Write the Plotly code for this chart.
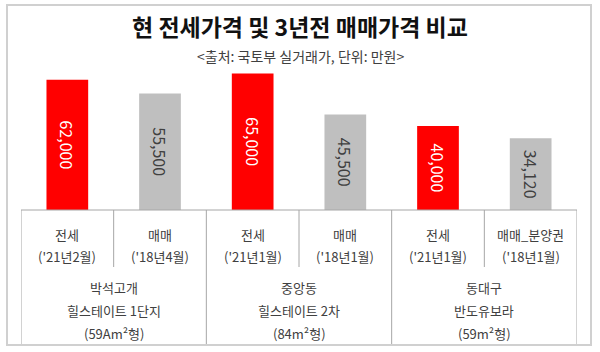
import plotly.graph_objects as go

title = "현 전세가격 및 3년전 매매가격 비교"
subtitle = "<출처: 국토부 실거래가, 단위: 만원>"
kinds = ["전세", "매매", "전세", "매매", "전세", "매매_분양권"]
periods = ["('21년2월)", "('18년4월)", "('21년1월)", "('18년1월)", "('21년1월)", "('18년1월)"]
values = [62000, 55500, 65000, 45500, 40000, 34120]
group_lines = [
    ["박석고개", "힐스테이트 1단지", "(59Am²형)"],
    ["중앙동", "힐스테이트 2차", "(84m²형)"],
    ["동대구", "반도유보라", "(59m²형)"],
]
RED = "#FF0000"
GRAY = "#BFBFBF"
TXT = "#404040"

W, H = 600, 352
L, R, T, B = 21, 23, 63, 142
plot_h = H - T - B
plot_w = W - L - R


def py(p):
    return (H - B - p) / plot_h


def px(p):
    return (p - L) / plot_w


xs = list(range(len(values)))
colors = [RED if k == "전세" else GRAY for k in kinds]
tcolors = ["white" if k == "전세" else TXT for k in kinds]

fig = go.Figure(go.Bar(
    x=xs, y=values, width=0.45,
    marker=dict(color=colors, line=dict(width=0)),
    texttemplate="%{y:,}", textposition="inside", insidetextanchor="middle",
    textangle=90, textfont=dict(size=16, color=tcolors, family="Noto Sans CJK KR"),
    hoverinfo="skip",
))

shapes = []
line = dict(color="#A6A6A6", width=1)
n = len(values)
shapes.append(dict(type="line", xref="x", yref="paper", x0=-0.5, x1=n - 0.5, y0=0, y1=0, line=line))
for i in range(n + 1):
    xv = i - 0.5
    yb = py(344) if i % 2 == 0 else py(267)
    shapes.append(dict(type="line", xref="x", yref="paper", x0=xv, x1=xv, y0=0, y1=yb, line=line))
shapes.append(dict(type="rect", xref="paper", yref="paper", x0=px(7), x1=px(591), y0=py(345), y1=py(5),
                   line=dict(color="#D0D0D0", width=2), layer="below"))

ann = []
font = dict(family="Noto Sans CJK KR", size=13, color=TXT)
for i, (k, p) in enumerate(zip(kinds, periods)):
    ann.append(dict(x=i, y=py(234), xref="x", yref="paper", text=k, showarrow=False, font=font, yanchor="middle"))
    ann.append(dict(x=i, y=py(256), xref="x", yref="paper", text=p, showarrow=False, font=font, yanchor="middle"))
for g, lines in enumerate(group_lines):
    for j, t in enumerate(lines):
        ann.append(dict(x=2 * g + 0.5, y=py([287, 310, 333][j]), xref="x", yref="paper", text=t,
                        showarrow=False, font=font, yanchor="middle"))
ann.append(dict(x=px(300), y=py(26), xref="paper", yref="paper", text="<b>" + title + "</b>", showarrow=False,
                font=dict(family="Noto Sans CJK KR", size=23, color="#111111"), yanchor="middle"))
ann.append(dict(x=px(300), y=py(56), xref="paper", yref="paper", text=subtitle.replace("<", "&lt;").replace(">", "&gt;"),
                showarrow=False, font=dict(family="Noto Sans CJK KR", size=14, color=TXT), yanchor="middle"))

fig.update_layout(
    width=W, height=H, margin=dict(l=L, r=R, t=T, b=B),
    paper_bgcolor="white", plot_bgcolor="white",
    xaxis=dict(range=[-0.5, n - 0.5], showticklabels=False, showgrid=False, zeroline=False, showline=False, fixedrange=True),
    yaxis=dict(range=[0, 70000], visible=False, fixedrange=True),
    showlegend=False, shapes=shapes, annotations=ann,
    uniformtext=dict(mode=False),
)
fig.write_html("out.html", config={"displayModeBar": False})
